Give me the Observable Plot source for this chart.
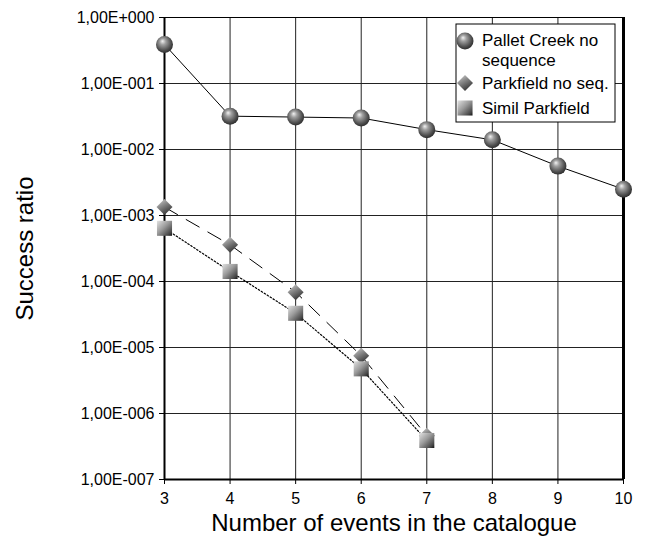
<!DOCTYPE html>
<html><head><meta charset="utf-8">
<script src="https://cdn.jsdelivr.net/npm/d3@7"></script>
<script src="https://cdn.jsdelivr.net/npm/@observablehq/plot@0.6"></script>
<style>body{margin:0;background:#fff} svg{display:block}</style>
</head><body><div id="chart"></div>
<script>
// ---- data ----
const xTicks = [3, 4, 5, 6, 7, 8, 9, 10];
const yTicks = [1e-7, 1e-6, 1e-5, 1e-4, 1e-3, 1e-2, 1e-1, 1];
const palletX = [3, 4, 5, 6, 7, 8, 9, 10];
const palletCreek = [0.39, 0.032, 0.031, 0.030, 0.020, 0.014, 0.0056, 0.0025];
const parkX = [3, 4, 5, 6, 7];
const parkfieldNoSeq = [1.34e-3, 3.6e-4, 6.9e-5, 7.5e-6, 4.6e-7];
const similParkfield = [6.4e-4, 1.42e-4, 3.3e-5, 4.75e-6, 3.9e-7];
const seriesNames = ["Pallet Creek no sequence", "Parkfield no seq.", "Simil Parkfield"];
const legendLines = [["Pallet Creek no", "sequence"], ["Parkfield no seq."], ["Simil Parkfield"]];
const xTitle = "Number of events in the catalogue";
const yTitle = "Success ratio";

const pc = palletX.map((x, i) => ({x, y: palletCreek[i]}));
const pk = parkX.map((x, i) => ({x, y: parkfieldNoSeq[i]}));
const sp = parkX.map((x, i) => ({x, y: similParkfield[i]}));

const fmt = v => {
  const e = Math.round(Math.log10(v));
  return "1,00E" + (e >= 0 ? "+" : "-") + String(Math.abs(e)).padStart(3, "0");
};

const font = "Liberation Sans, Arial, sans-serif";

const plot = Plot.plot({
  width: 645, height: 548,
  marginLeft: 164, marginRight: 22, marginTop: 17, marginBottom: 69,
  style: {fontFamily: font, fontSize: "16px", background: "#fff", color: "#000"},
  x: {domain: [3, 10], ticks: xTicks, tickSize: 5, tickPadding: 8, label: null, tickFormat: d => String(d)},
  y: {type: "log", domain: [1e-7, 1], ticks: yTicks, tickFormat: fmt, tickSize: 5, tickPadding: 5, label: null},
  marks: [
    Plot.ruleX(xTicks, {stroke: "#222", strokeWidth: 1}),
    Plot.ruleY(yTicks, {stroke: "#222", strokeWidth: 1}),
    Plot.frame({stroke: "#000", strokeWidth: 1}),
    Plot.ruleX([3], {stroke: "#000", strokeWidth: 2}),
    Plot.ruleX([10], {stroke: "#000", strokeWidth: 3}),
    Plot.ruleY([1e-7], {stroke: "#000", strokeWidth: 2}),
    Plot.line(pc, {x: "x", y: "y", stroke: "#000", strokeWidth: 1}),
    Plot.line(pk, {x: "x", y: "y", stroke: "#000", strokeWidth: 1, strokeDasharray: "15,10"}),
    Plot.line(sp, {x: "x", y: "y", stroke: "#000", strokeWidth: 1.2, strokeDasharray: "1.5,2"}),
    Plot.dot(pk, {x: "x", y: "y", symbol: "diamond2", r: 7.2, fill: "url(#diaGrad)", stroke: "none"}),
    Plot.dot(sp, {x: "x", y: "y", symbol: "square", r: 8.5, fill: "url(#sqGrad)", stroke: "none"}),
    Plot.dot(pc, {x: "x", y: "y", symbol: "circle", r: 8.5, fill: "url(#sphGrad)", stroke: "none"}),
    Plot.text([yTitle], {frameAnchor: "left", dx: -139, rotate: -90, textAnchor: "middle", lineAnchor: "middle", fontSize: 24}),
    Plot.text([xTitle], {frameAnchor: "bottom", dy: 44, textAnchor: "middle", lineAnchor: "middle", fontSize: 24})
  ]
});

document.getElementById("chart").appendChild(plot);

// gradients
const svg = d3.select(plot);
const defs = svg.insert("defs", ":first-child");
const sph = defs.append("radialGradient").attr("id", "sphGrad")
  .attr("cx", 0.45).attr("cy", 0.42).attr("r", 0.6).attr("fx", 0.38).attr("fy", 0.3);
[[0, "#f2f2f2"], [0.3, "#a0a0a0"], [0.75, "#505050"], [1, "#2a2a2a"]]
  .forEach(([o, c]) => sph.append("stop").attr("offset", o).attr("stop-color", c));
const dia = defs.append("linearGradient").attr("id", "diaGrad")
  .attr("x1", 0).attr("y1", 0).attr("x2", 0.6).attr("y2", 1);
[[0, "#d8d8d8"], [0.45, "#8a8a8a"], [1, "#333"]]
  .forEach(([o, c]) => dia.append("stop").attr("offset", o).attr("stop-color", c));
const sq = defs.append("linearGradient").attr("id", "sqGrad")
  .attr("x1", 0).attr("y1", 0).attr("x2", 1).attr("y2", 1);
[[0, "#e2e2e2"], [0.45, "#9a9a9a"], [0.85, "#444"], [1, "#111"]]
  .forEach(([o, c]) => sq.append("stop").attr("offset", o).attr("stop-color", c));

// legend
const lg = svg.append("g").attr("font-family", font).attr("font-size", 17).attr("text-anchor", "start");
lg.append("rect").attr("x", 456).attr("y", 24).attr("width", 159).attr("height", 98)
  .attr("fill", "#fff").attr("stroke", "#000").attr("stroke-width", 1);
const symY = [41, 83, 108];
const sym = [d3.symbolCircle, d3.symbolDiamond2, d3.symbolSquare];
const symSize = [Math.PI * 8.5 * 8.5, Math.PI * 7.2 * 7.2, Math.PI * 8.5 * 8.5];
const grads = ["sphGrad", "diaGrad", "sqGrad"];
const textY = [[46, 66], [89], [114]];
legendLines.forEach((lines, i) => {
  lg.append("path").attr("d", d3.symbol(sym[i], symSize[i])())
    .attr("transform", `translate(465,${symY[i]})`).attr("fill", `url(#${grads[i]})`);
  lines.forEach((t, j) => lg.append("text").attr("x", 482).attr("y", textY[i][j])
    .attr("text-anchor", "start").text(t));
});
</script></body></html>
